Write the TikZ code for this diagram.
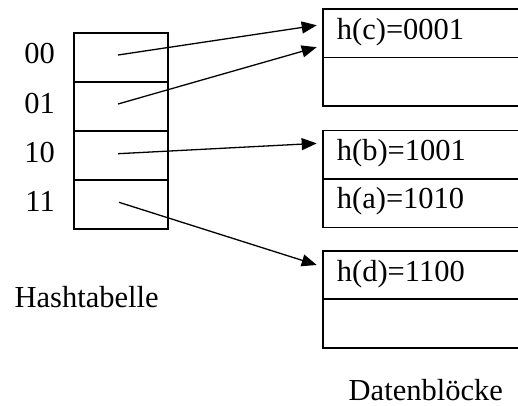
\documentclass[tikz,border=0pt]{standalone}
\usepackage{fontspec}
\setmainfont{Liberation Serif}
\usetikzlibrary{arrows.meta}
\begin{document}
\begin{tikzpicture}[x=1pt,y=-1pt,
  every node/.style={font=\fontsize{30.5}{36}\selectfont},
  slot/.style={draw,line width=1.6pt,minimum width=94pt,minimum height=49pt,
    inner sep=0pt,outer sep=0pt},
  record/.style={draw,line width=1.6pt,anchor=north west,minimum width=210pt,
    minimum height=48.5pt,inner sep=0pt,outer sep=0pt},
  entry/.style={anchor=base west,inner sep=0pt},
  key/.style={anchor=base east,inner sep=0pt},
  caption/.style={anchor=base west,inner sep=0pt,text depth=0pt},
  ptr/.style={line width=1.3pt,-{Triangle[length=15pt,width=12pt]}}]
\useasboundingbox (0,0) rectangle (518,405);
\clip (0,0) rectangle (518,405);

% hash table slots
\node[slot] (t00) at (121,57.5) {};
\node[slot] (t01) at (121,106.5) {};
\node[slot] (t10) at (121,155.5) {};
\node[slot] (t11) at (121,204.5) {};

% slot keys
\node[key] (k00) at (55,63) {00};
\node[key] (k01) at (55,113) {01};
\node[key] (k10) at (55,162) {10};
\node[key] (k11) at (55,211.5) {11};

% data blocks (open to the right)
\node[record] (c1) at (322.7,9) {};
\node[record] (e1) at (322.7,57.5) {};
\node[record] (b1) at (322.7,130.5) {};
\node[record] (a1) at (322.7,179) {};
\node[record] (d1) at (322.7,250.7) {};
\node[record] (e3) at (322.7,299.2) {};

% block entries
\node[entry] (tc) at (336.7,39) {h(c)=0001};
\node[entry] (tb) at (336.7,160) {h(b)=1001};
\node[entry] (ta) at (336.7,208.5) {h(a)=1010};
\node[entry] (td) at (336.7,281) {h(d)=1100};

% pointer origins inside the slots
\coordinate (s00) at (118,55);
\coordinate (s01) at (118,104);
\coordinate (s10) at (118,153.7);
\coordinate (s11) at (119,202.3);

% pointers
\draw[ptr] (s00) -- ([xshift=-6pt,yshift=8pt]c1.west);
\draw[ptr] (s01) -- ([xshift=-6pt,yshift=10.3pt]c1.south west);
\draw[ptr] (s10) -- ([xshift=-6pt,yshift=11.4pt]b1.west);
\draw[ptr] (s11) -- ([xshift=-6pt,yshift=10pt]d1.west);

% captions
\node[caption] (cap1) at (14.4,307) {Hashtabelle};
\node[caption] (cap2) at (348.5,400) {Datenblöcke};
\end{tikzpicture}
\end{document}
